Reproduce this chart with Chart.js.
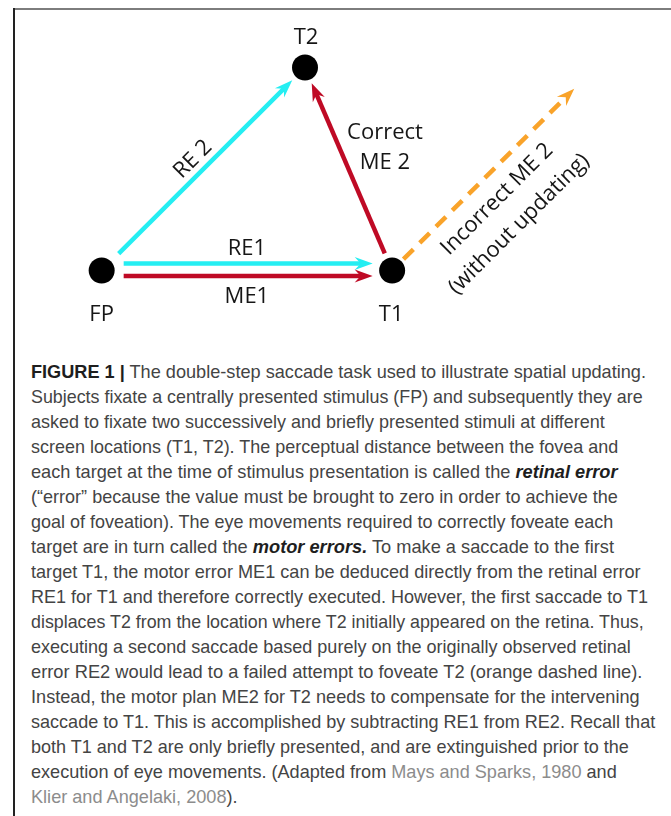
<!DOCTYPE html>
<html>
<head>
<meta charset="utf-8">
<script src="https://cdn.jsdelivr.net/npm/chart.js@4/dist/chart.umd.min.js"></script>
<style>
html,body{margin:0;padding:0;background:#fff;}
body{width:671px;height:816px;position:relative;overflow:hidden;}
#frameTop{position:absolute;left:14px;top:8px;width:657px;height:2px;background:#7d7d7d;}
#frameLeft{position:absolute;left:13px;top:8px;width:2px;height:808px;background:#222;}
#wrap{position:absolute;left:-13px;top:-13px;width:697px;height:366px;}
#caption{position:absolute;left:31px;top:359px;font-family:"Liberation Sans",Arial,sans-serif;font-size:19px;color:#444;}
.ln{height:25px;line-height:25px;white-space:nowrap;}
.ln .w{display:inline-block;transform-origin:0 50%;}
.ln b{color:#1e1e1e;}
.ln .lk{color:#8c8c8c;}
</style>
</head>
<body>
<div id="frameTop"></div>
<div id="frameLeft"></div>
<div id="wrap"><canvas id="c" width="697" height="366"></canvas></div>
<div id="caption"></div>
<script>
// ---- data ----
const pointNames = ['FP', 'T1', 'T2'];
const pointX = [0, 10, 7];
const pointY = [0, 0, 7];

const arrowNames = ['RE1', 'ME1', 'RE 2', 'Correct ME 2', 'Incorrect ME 2'];
const arrowFrom = ['FP', 'FP', 'FP', 'T1', 'T1'];
const arrowDX = [10, 10, 7, -3, 7];
const arrowDY = [0, 0, 7, 7, 7];

const captionLines = [
  '<b>FIGURE 1 |</b> The double-step saccade task used to illustrate spatial updating.',
  'Subjects fixate a centrally presented stimulus (FP) and subsequently they are',
  'asked to fixate two successively and briefly presented stimuli at different',
  'screen locations (T1, T2). The perceptual distance between the fovea and',
  'each target at the time of stimulus presentation is called the <b><i>retinal error</i></b>',
  '(\u201cerror\u201d because the value must be brought to zero in order to achieve the',
  'goal of foveation). The eye movements required to correctly foveate each',
  'target are in turn called the <b><i>motor errors.</i></b> To make a saccade to the first',
  'target T1, the motor error ME1 can be deduced directly from the retinal error',
  'RE1 for T1 and therefore correctly executed. However, the first saccade to T1',
  'displaces T2 from the location where T2 initially appeared on the retina. Thus,',
  'executing a second saccade based purely on the originally observed retinal',
  'error RE2 would lead to a failed attempt to foveate T2 (orange dashed line).',
  'Instead, the motor plan ME2 for T2 needs to compensate for the intervening',
  'saccade to T1. This is accomplished by subtracting RE1 from RE2. Recall that',
  'both T1 and T2 are only briefly presented, and are extinguished prior to the',
  'execution of eye movements. (Adapted from <span class="lk">Mays and Sparks, 1980</span> and',
  '<span class="lk">Klier and Angelaki, 2008</span>).'
];

// ---- styling / layout (not data) ----
const lineWidthsPx = [615,612,574,587,587,587,582,583,610,617,613,600,611,609,624,598,586,207];
const W = 671, H = 340;
const X_MIN = -3.5, X_MAX = 19.6, Y_MAX = 9.328, Y_MIN = 9.328 - 340 / 29;
const PPU_X = W / (X_MAX - X_MIN), PPU_Y = H / (Y_MAX - Y_MIN);
const arrowColor = ['#25eef2', '#bf0a25', '#25eef2', '#bf0a25', '#f9a32a'];
const arrowDash = [[], [], [], [], [14, 9]];
const gapStart = [22, 22, 24, 18.7, 16];
const gapEnd = [19.5, 19.5, 18, 17, 30];
const sideOffset = [-7, 5.5, 0, 0, 0];
const HEAD_EXT = 10, HEAD_LEN = 18, HEAD_NOTCH = 12, HEAD_HALF = 6.5;

function idx(name) { return pointNames.indexOf(name); }

const arrowDatasets = arrowNames.map((name, i) => {
  const k = idx(arrowFrom[i]);
  const fx = pointX[k], fy = pointY[k];
  const tx = fx + arrowDX[i], ty = fy + arrowDY[i];
  const px = arrowDX[i] * PPU_X, py = -arrowDY[i] * PPU_Y;
  const len = Math.hypot(px, py);
  const ux = px / len, uy = py / len;
  const nx = -uy, ny = ux;
  const shift = (x, y, along, side) => ({
    x: x + (along * ux + side * nx) / PPU_X,
    y: y - (along * uy + side * ny) / PPU_Y
  });
  const s = shift(fx, fy, gapStart[i], sideOffset[i]);
  const e = shift(tx, ty, -(gapEnd[i] + HEAD_EXT), sideOffset[i]);
  return {
    label: name,
    data: [s, e],
    showLine: true,
    borderColor: arrowColor[i],
    backgroundColor: arrowColor[i],
    borderWidth: 4.5,
    borderDash: arrowDash[i],
    borderCapStyle: 'butt',
    pointRadius: 0,
    pointHoverRadius: 0,
    fill: false,
    tension: 0,
    order: 2
  };
});

const dotDataset = {
  label: 'targets',
  data: pointNames.map((n, i) => ({ x: pointX[i], y: pointY[i] })),
  showLine: false,
  pointRadius: 13,
  pointHoverRadius: 13,
  pointBackgroundColor: '#000',
  pointBorderWidth: 0,
  order: 1
};

const arrowHeadPlugin = {
  id: 'arrowHeads',
  afterDatasetsDraw(chart) {
    const ctx = chart.ctx;
    arrowNames.forEach((n, i) => {
      const meta = chart.getDatasetMeta(i + 1);
      const a = meta.data[0], b = meta.data[1];
      const dx = b.x - a.x, dy = b.y - a.y, L = Math.hypot(dx, dy);
      const ux = dx / L, uy = dy / L, nx = -uy, ny = ux;
      const tx = b.x + ux * HEAD_EXT, ty = b.y + uy * HEAD_EXT;
      ctx.save();
      ctx.fillStyle = arrowColor[i];
      ctx.beginPath();
      ctx.moveTo(tx, ty);
      ctx.lineTo(tx - ux * HEAD_LEN + nx * HEAD_HALF, ty - uy * HEAD_LEN + ny * HEAD_HALF);
      ctx.lineTo(tx - ux * HEAD_NOTCH, ty - uy * HEAD_NOTCH);
      ctx.lineTo(tx - ux * HEAD_LEN - nx * HEAD_HALF, ty - uy * HEAD_LEN - ny * HEAD_HALF);
      ctx.closePath();
      ctx.fill();
      ctx.restore();
    });
  }
};

const labelPlugin = {
  id: 'diagramLabels',
  afterDraw(chart) {
    const ctx = chart.ctx, xs = chart.scales.x, ys = chart.scales.y;
    const P = name => { const k = idx(name); return { x: xs.getPixelForValue(pointX[k]), y: ys.getPixelForValue(pointY[k]) }; };
    const arrowMid = i => {
      const k = idx(arrowFrom[i]);
      const x0 = xs.getPixelForValue(pointX[k]), y0 = ys.getPixelForValue(pointY[k]);
      const x1 = xs.getPixelForValue(pointX[k] + arrowDX[i]), y1 = ys.getPixelForValue(pointY[k] + arrowDY[i]);
      return { x: (x0 + x1) / 2, y: (y0 + y1) / 2, ang: Math.atan2(y1 - y0, x1 - x0) };
    };
    ctx.save();
    ctx.font = '22px "Open Sans"';
    ctx.fillStyle = '#161616';
    ctx.textAlign = 'center';
    ctx.textBaseline = 'alphabetic';
    const CAP = 8;
    const put = (t, x, y) => ctx.fillText(t, x, y + CAP);
    const fp = P('FP'), t1 = P('T1'), t2 = P('T2');
    put('T2', t2.x + 1, t2.y - 32);
    put('FP', fp.x, fp.y + 42);
    put('T1', t1.x - 1, t1.y + 42);
    const m0 = arrowMid(0);
    put('RE1', m0.x, m0.y - 23.5);
    put('ME1', m0.x, m0.y + 24);
    const m3 = arrowMid(3);
    put('Correct', m3.x + 36.4, m3.y - 38);
    put('ME 2', m3.x + 36.4, m3.y - 8);
    const m2 = arrowMid(2);
    ctx.save();
    ctx.translate(m2.x - 11.6, m2.y - 11);
    ctx.rotate(m2.ang);
    ctx.fillText('RE 2', 0, CAP);
    ctx.restore();
    const m4 = arrowMid(4);
    ctx.save();
    ctx.translate(m4.x + 2, m4.y + 29);
    ctx.rotate(m4.ang);
    ctx.fillText('Incorrect ME 2', 0, CAP);
    ctx.restore();
    ctx.save();
    ctx.translate(m4.x + 24, m4.y + 54);
    ctx.rotate(m4.ang);
    ctx.fillText('(without updating)', 0, CAP);
    ctx.restore();
    ctx.restore();
  }
};

new Chart(document.getElementById('c'), {
  type: 'scatter',
  data: { datasets: [dotDataset, ...arrowDatasets] },
  options: {
    responsive: false,
    animation: false,
    devicePixelRatio: 1,
    layout: { padding: 0 },
    plugins: { legend: { display: false }, tooltip: { enabled: false } },
    events: [],
    scales: {
      x: { type: 'linear', display: false, min: X_MIN, max: X_MAX },
      y: { type: 'linear', display: false, min: Y_MIN, max: Y_MAX }
    }
  },
  plugins: [arrowHeadPlugin, labelPlugin]
});

const cap = document.getElementById('caption');
captionLines.forEach((html, i) => {
  const d = document.createElement('div');
  d.className = 'ln';
  const s = document.createElement('span');
  s.className = 'w';
  s.innerHTML = html;
  d.appendChild(s);
  cap.appendChild(d);
});
function fitCaption() {
  const spans = cap.querySelectorAll('.w');
  spans.forEach((s, i) => {
    const w = s.offsetWidth;
    if (w > 0) s.style.transform = 'scaleX(' + (lineWidthsPx[i] / w) + ')';
  });
}
fitCaption();
if (document.fonts && document.fonts.ready) document.fonts.ready.then(fitCaption);
</script>
</body>
</html>
